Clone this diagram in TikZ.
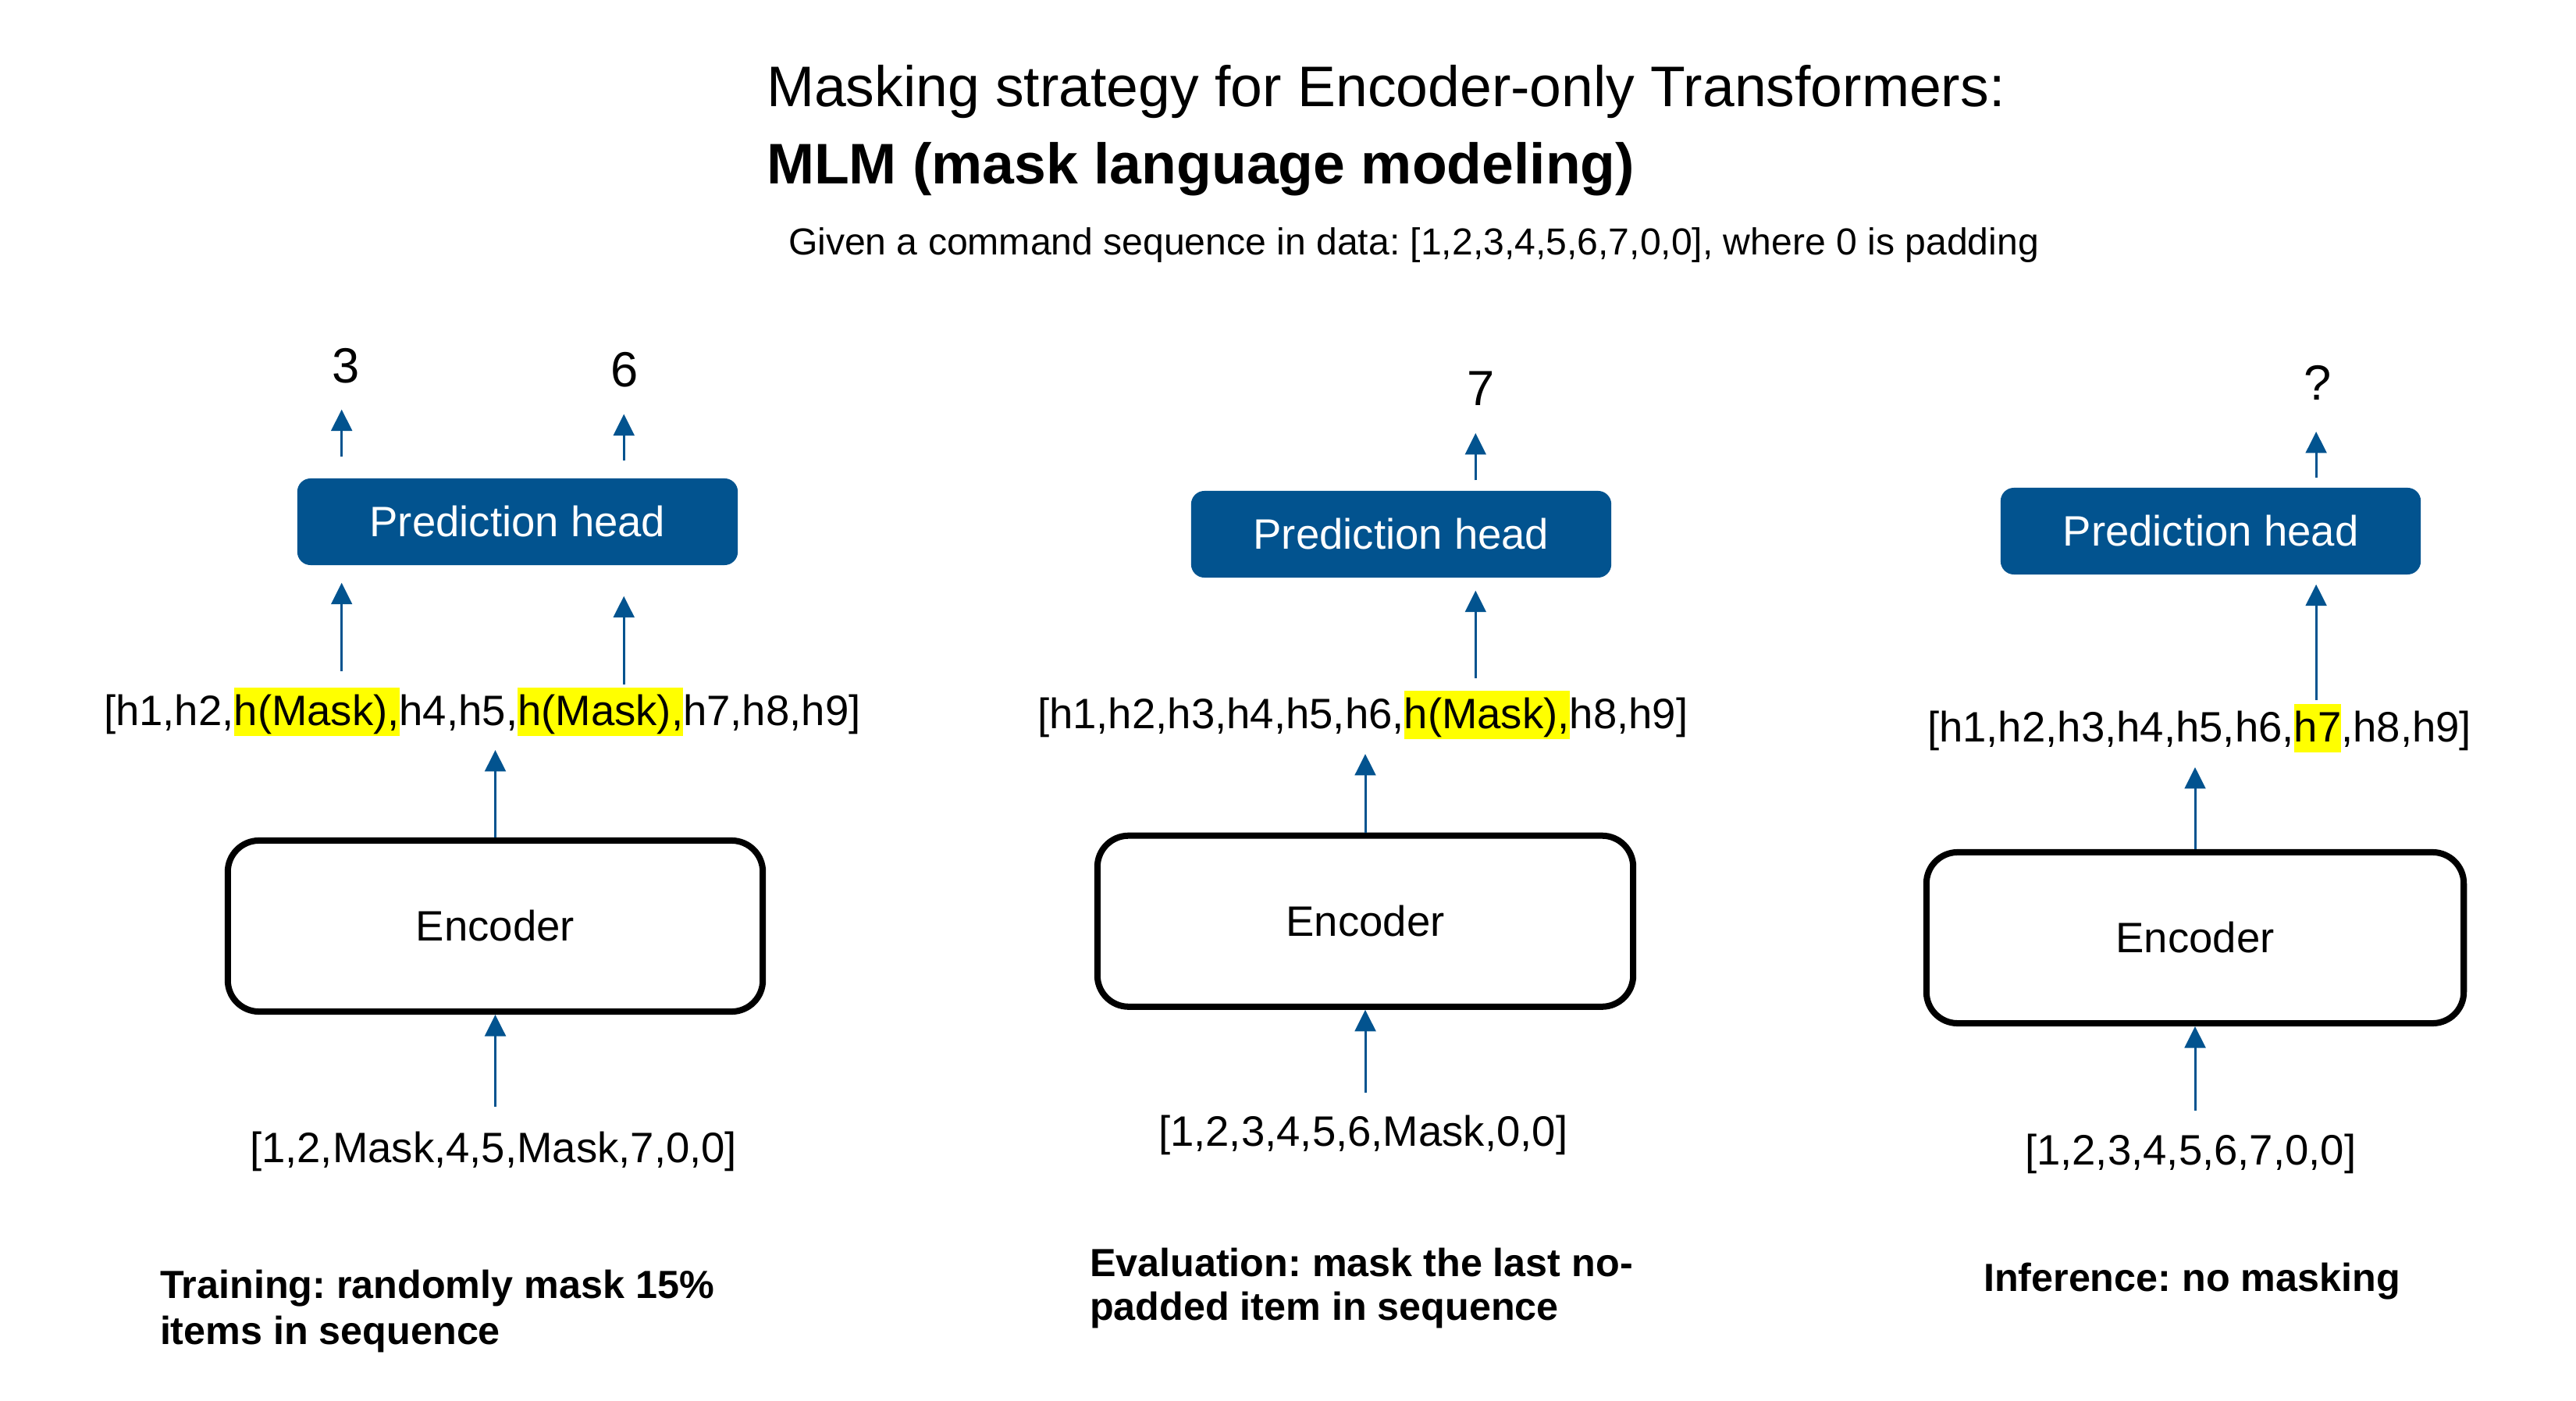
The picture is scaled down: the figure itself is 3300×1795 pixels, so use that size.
\documentclass[tikz,border=0pt]{standalone}
\usepackage{fontspec}
\setmainfont{Liberation Sans}
\usetikzlibrary{arrows.meta,calc}
\definecolor{myblue}{HTML}{02538F}
\definecolor{hlyellow}{HTML}{FFFF00}
\frenchspacing
\begin{document}
\begin{tikzpicture}[x=0.01cm,y=-0.01cm,
  txt/.style={inner sep=0pt, outer sep=0pt, font=\fontsize{15.5}{18.6}\selectfont},
  hseg/.style={txt, text height=0.49cm, text depth=0.13cm, anchor=base west},
  hl/.style={hseg, fill=hlyellow},
  num/.style={inner sep=0pt, outer sep=0pt, anchor=base, font=\fontsize{18}{21.6}\selectfont},
  phead/.style={rectangle, rounded corners=0.17cm, fill=myblue, text=white, inner sep=0pt,
    minimum height=1.11cm, font=\fontsize{15.5}{18.6}\selectfont},
  encbox/.style={rectangle, rounded corners=0.4cm, draw=black, line width=2.28pt,
    minimum height=2.19cm, inner sep=0pt, font=\fontsize{15.5}{18.6}\selectfont},
  arr/.style={draw=myblue, line width=0.85pt, -{Triangle[width=7.6pt,length=7.8pt]}},
  capt/.style={inner sep=0pt, outer sep=0pt, anchor=base west, font=\fontsize{14.3}{17}\selectfont\bfseries},
  ttl/.style={inner sep=0pt, outer sep=0pt, anchor=base west}
]
\fill[white] (0,0) rectangle (3300,1795);
\useasboundingbox (0,0) rectangle (3300,1795);

% titles
\node[ttl, font=\fontsize{20.85}{25}\selectfont] (t1) at (982,137) {Masking strategy for Encoder-only Transformers:};
\node[ttl, font=\fontsize{20.85}{25}\selectfont\bfseries] (t2) at (982,236) {MLM (mask language modeling)};
\node[ttl, font=\fontsize{13.68}{16}\selectfont] (t3) at (1010,327) {Given a command sequence in data: [1,2,3,4,5,6,7,0,0], where 0 is padding};

% ---------- left panel: training ----------
\node[phead, minimum width=5.64cm] (ph1) at (663,668.5) {Prediction head};
\node[hseg] (hA) at (133,930) {[h1,h2,};
\node[hl] (hB) at (hA.base east) {h(Mask),};
\node[hseg] (hC) at (hB.base east) {h4,h5,};
\node[hl] (hD) at (hC.base east) {h(Mask),};
\node[hseg] (hE) at (hD.base east) {h7,h8,h9]};
\node[encbox, minimum width=6.85cm] (enc1) at (634.5,1186.5) {Encoder};
\node[hseg] (in1) at (320,1489) {[1,2,Mask,4,5,Mask,7,0,0]};
\node[num] (n3) at (443,491) {3};
\node[num] (n6) at (800,496) {6};
\node[capt] (c1a) at (205,1663) {Training: randomly mask 15\%};
\node[capt] (c1b) at (205,1722) {items in sequence};

\coordinate (x1) at ($(hB.north)+(32,0)$);
\coordinate (x2) at ($(hD.north)+(30,0)$);
\draw[arr, shorten <=0.215cm] (enc1.south |- in1.north) -- (enc1.south);
\draw[arr, shorten >=0.18cm] (enc1.north) -- (enc1.north |- hC.south);
\draw[arr, shorten <=0.21cm, shorten >=0.22cm] (x1) -- (x1 |- ph1.south);
\draw[arr, shorten <=0.04cm, shorten >=0.39cm] (x2) -- (x2 |- ph1.south);
\draw[arr, shorten <=0.27cm, shorten >=0.33cm] (x1 |- ph1.north) -- (x1 |- n3.south);
\draw[arr, shorten <=0.22cm, shorten >=0.34cm] (x2 |- ph1.north) -- (x2 |- n6.south);

% ---------- middle panel: evaluation ----------
\node[phead, minimum width=5.38cm] (ph2) at (1795,684.5) {Prediction head};
\node[hseg] (mA) at (1329,934) {[h1,h2,h3,h4,h5,h6,};
\node[hl] (mB) at (mA.base east) {h(Mask),};
\node[hseg] (mC) at (mB.base east) {h8,h9]};
\node[encbox, minimum width=6.86cm] (enc2) at (1749,1180.25) {Encoder};
\node[hseg] (in2) at (1484,1468.5) {[1,2,3,4,5,6,Mask,0,0]};
\node[num] (n7) at (1897,520) {7};
\node[capt] (c2a) at (1396,1635) {Evaluation: mask the last no-};
\node[capt] (c2b) at (1396,1691) {padded item in sequence};

\coordinate (x3) at ($(mB.north)+(-14.5,0)$);
\draw[arr, shorten <=0.195cm] (enc2.south |- in2.north) -- (enc2.south);
\draw[arr, shorten >=0.19cm] (enc2.north) -- (enc2.north |- mA.south);
\draw[arr, shorten <=0.16cm, shorten >=0.16cm] (x3) -- (x3 |- ph2.south);
\draw[arr, shorten <=0.13cm, shorten >=0.35cm] (x3 |- ph2.north) -- (x3 |- n7.south);

% ---------- right panel: inference ----------
\node[phead, minimum width=5.38cm] (ph3) at (2832,680.5) {Prediction head};
\node[hseg] (rA) at (2469,951) {[h1,h2,h3,h4,h5,h6,};
\node[hl] (rB) at (rA.base east) {h7};
\node[hseg] (rC) at (rB.base east) {,h8,h9]};
\node[encbox, minimum width=6.88cm] (enc3) at (2812,1201.5) {Encoder};
\node[hseg] (in3) at (2594,1492) {[1,2,3,4,5,6,7,0,0]};
\node[num] (nq) at (2969,513) {?};
\node[capt] (c3) at (2541,1654) {Inference: no masking};

\coordinate (x4) at ($(rB.north)+(-2,0)$);
\draw[arr, shorten <=0.195cm] (enc3.south |- in3.north) -- (enc3.south);
\draw[arr, shorten >=0.19cm] (enc3.north) -- (enc3.north |- rA.south);
\draw[arr, shorten <=0.05cm, shorten >=0.12cm] (x4) -- (x4 |- ph3.south);
\draw[arr, shorten <=0.12cm, shorten >=0.40cm] (x4 |- ph3.north) -- (x4 |- nq.south);
\end{tikzpicture}
\end{document}
